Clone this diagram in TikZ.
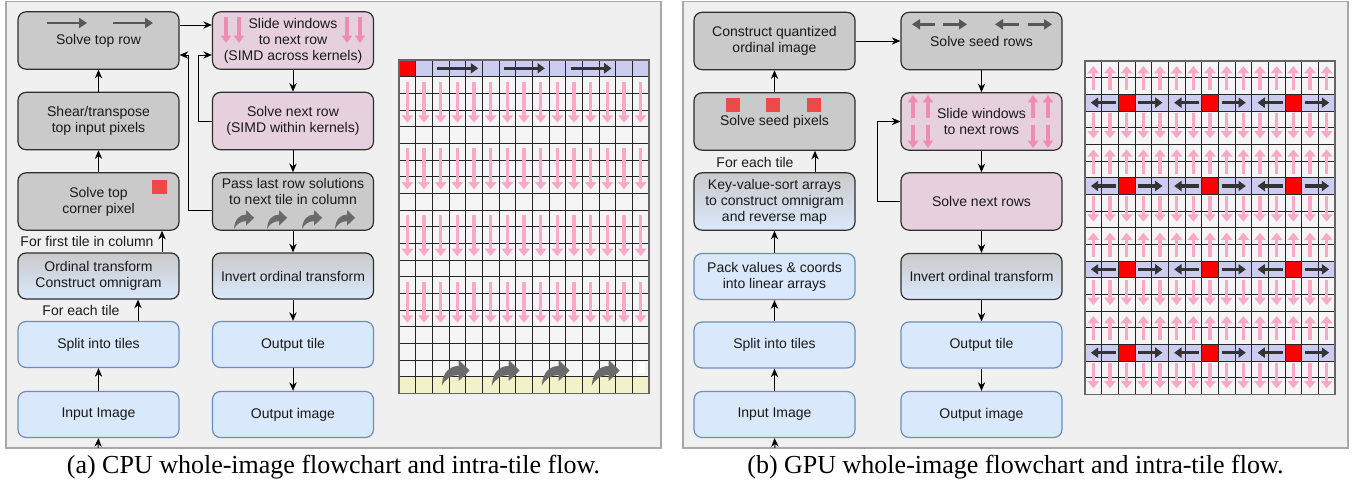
\documentclass[tikz,border=0pt]{standalone}
\usepackage{fontspec}
\setmainfont{Liberation Serif}
\setsansfont{Liberation Sans}
\usetikzlibrary{arrows.meta}

\definecolor{panelbg}{HTML}{F0F0F0}
\definecolor{panelline}{HTML}{A8A8A8}
\definecolor{greyfill}{HTML}{CACACA}
\definecolor{pinkfill}{HTML}{E6D0DE}
\definecolor{bluefill}{HTML}{DAE8FC}
\definecolor{blueline}{HTML}{6C8EBF}
\definecolor{boxline}{HTML}{2E2E2E}
\definecolor{kernel}{HTML}{F9A8C6}
\definecolor{kernelbox}{HTML}{EE8CB4}
\definecolor{iconarrow}{HTML}{575757}
\definecolor{gridarrow}{HTML}{333333}
\definecolor{seedred}{HTML}{FF0000}
\definecolor{pixred}{HTML}{EE4848}
\definecolor{cellfill}{HTML}{F5F5F5}
\definecolor{rowlav}{HTML}{CCCCF0}
\definecolor{rowyel}{HTML}{F2F2CA}
\definecolor{sharegrey}{HTML}{6A6A6A}

\newcommand\flowfont{\sffamily\fontsize{10.5}{12}\selectfont}

\begin{document}
\begin{tikzpicture}[x=0.75pt,y=-0.75pt,
  box/.style={rounded corners=6pt, draw=boxline, line width=0.9pt, align=center,
    font=\flowfont, text=black!90, minimum width=120.75pt, inner sep=2pt},
  greybox/.style={box, fill=greyfill},
  pinkbox/.style={box, fill=pinkfill},
  gradbox/.style={box, top color=greyfill, bottom color=bluefill},
  bluebox/.style={box, fill=bluefill, draw=blueline},
  tall/.style={minimum height=43pt},
  short/.style={minimum height=34.5pt},
  link/.style={draw=black, line width=0.75pt, -{Stealth[length=6.5pt,width=5.5pt]}},
  note/.style={font=\flowfont, text=black!90, inner sep=0pt},
  caption/.style={font=\rmfamily\fontsize{19.5}{23}\selectfont, anchor=base},
  kern/.style={draw=kernel, line width=2.7pt, -{Triangle[length=5.5pt,width=8.5pt]}},
  kernb/.style={draw=kernelbox, line width=2.4pt, -{Triangle[length=5.5pt,width=7.5pt]}},
  iconarr/.style={draw=iconarrow, line width=2.2pt, -{Triangle[length=6pt,width=7.5pt]}},
  darr/.style={draw=gridarrow, line width=2.3pt, -{Triangle[length=5.5pt,width=7.5pt]}},
  cellline/.style={draw=black!85, line width=0.6pt},
  share/.pic={\fill[sharegrey] (0,0) .. controls (1,-14) and (8,-20) .. (17,-20)
     -- (17,-26) -- (28,-15.5) -- (17,-5) -- (17,-11)
     .. controls (10,-11) and (3,-7) .. (0,0) -- cycle;}
]
\useasboundingbox (0,0) rectangle (1360,486);
\fill[white] (0,0) rectangle (1360,486);

% panels
\draw[fill=panelbg, draw=panelline, line width=0.9pt] (6,1.5) rectangle (661,448);
\draw[fill=panelbg, draw=panelline, line width=0.9pt] (683,1.5) rectangle (1348,448);

% ---------------- CPU flowchart ----------------
\node[greybox, tall]  (toprow) at (98.5,40.5)  {Solve top row};
\node[greybox, tall]  (shear)  at (98.5,121)   {Shear/transpose\\top input pixels};
\node[greybox, tall]  (corner) at (98.5,201.5) {Solve top\\corner pixel};
\node[gradbox, short] (ord)    at (98.5,276)   {Ordinal transform\\Construct omnigram};
\node[bluebox, short] (split)  at (98.5,344.5) {Split into tiles};
\node[bluebox, short] (inimg)  at (98.5,414.5) {Input Image};

\node[pinkbox, tall]  (slide)  at (293,40.5)   {Slide windows\\to next row\\(SIMD across kernels)};
\node[pinkbox, tall]  (next)   at (293,121)    {Solve next row\\(SIMD within kernels)};
\node[greybox, tall]  (pass)   at (293,201.5)  {Pass last row solutions\\to next tile in column\\\strut};
\node[gradbox, short] (inv)    at (293,276)    {Invert ordinal transform};
\node[bluebox, short] (otile)  at (293,344.5)  {Output tile};
\node[bluebox, short] (oimg)   at (293,414.5)  {Output image};

\node[note] (firsttile) at (87,241) {For first tile in column};
\node[note] (eachtile)  at (81,310) {For each tile};

% icons inside the CPU boxes
\draw[iconarr] (47,23) -- (87,23);
\draw[iconarr] (113,23) -- (153,23);
\foreach \x in {226,239,347,360} \draw[kernb] (\x,17) -- (\x,43);
\fill[pixred] (152,180) rectangle (167,194);
\foreach \x in {234,267,302,335} \pic[scale=0.72] at (\x,229) {share};

% CPU connectors
\coordinate (srcA) at (98,448);
\coordinate (xsplit) at (138,0);
\coordinate (xord) at (162,0);
\coordinate (yfwd) at (0,25);
\coordinate (yloop) at (0,55);
\coordinate (ypass) at (0,210);
\draw[link] (srcA) -- (inimg.south);
\draw[link] (inimg.north) -- (split.south);
\draw[link] (split.north -| xsplit) -- (ord.south -| xsplit);
\draw[link] (ord.north -| xord) -- (corner.south -| xord);
\draw[link] (corner.north) -- (shear.south);
\draw[link] (shear.north) -- (toprow.south);
\draw[link] (toprow.east |- yfwd) -- (slide.west |- yfwd);
\draw[link] (next.west) -- ++(-13,0) |- (slide.west |- yloop);
\draw[link] (pass.west |- ypass) -- ++(-23,0) |- (toprow.east |- yloop);
\draw[link] (slide.south) -- (next.north);
\draw[link] (next.south) -- (pass.north);
\draw[link] (pass.south) -- (inv.north);
\draw[link] (inv.south) -- (otile.north);
\draw[link] (otile.south) -- (oimg.north);

% ---------------- CPU tile grid ----------------
\fill[cellfill] (399,60) rectangle ++(250,333.33);
\fill[rowlav] (399,60) rectangle ++(250,16.667);
\fill[rowyel] (399,{60+19*16.667}) rectangle ++(250,16.667);
\fill[seedred] (399,60) rectangle ++(16.667,16.667);
\foreach \i in {0,...,15} \draw[cellline] ({399+\i*16.667},60) -- ++(0,333.33);
\foreach \j in {0,...,20} \draw[cellline] (399,{60+\j*16.667}) -- ++(250,0);
\draw[draw=black!60, line width=1.1pt] (399,60) rectangle ++(250,333.33);
\foreach \c in {2,6,10} \draw[darr] ({399+(\c+0.3)*16.667},68.3) -- ({399+(\c+2.75)*16.667},68.3);
\foreach \g in {0,...,3}
  \foreach \c in {0,...,14}
    \draw[kern] ({399+(\c+0.5)*16.667},{60+(1+4*\g)*16.667+5}) -- ({399+(\c+0.5)*16.667},{60+(4+4*\g)*16.667-4});
\foreach \x in {441.7,491.7,541.7,591.7} \pic at (\x,386) {share};
\fill[white] (637,363) rectangle (645,373);

% ---------------- GPU flowchart ----------------
\node[greybox, tall]  (quant)   at (774.5,41)    {Construct quantized\\ordinal image};
\node[greybox, tall]  (seedpix) at (774.5,121.5) {Solve seed pixels};
\node[gradbox, tall]  (kvsort)  at (774.5,201.5) {Key-value-sort arrays\\to construct omnigram\\and reverse map};
\node[bluebox, short] (pack)    at (774.5,276.5) {Pack values \& coords\\into linear arrays};
\node[bluebox, short] (splitR)  at (774.5,345)   {Split into tiles};
\node[bluebox, short] (inimgR)  at (774.5,414.5) {Input Image};

\node[greybox, tall]  (seedrow) at (981.5,41)    {Solve seed rows};
\node[pinkbox, tall]  (slideR)  at (981.5,121.5) {Slide windows\\to next rows};
\node[pinkbox, tall]  (nextR)   at (981.5,201.5) {Solve next rows};
\node[gradbox, short] (invR)    at (981.5,276.5) {Invert ordinal transform};
\node[bluebox, short] (otileR)  at (981.5,345)   {Output tile};
\node[bluebox, short] (oimgR)   at (981.5,414.5) {Output image};

\node[note] (eachtileR) at (755,162) {For each tile};

% icons inside the GPU boxes
\draw[iconarr] (935,24.3) -- (912,24.3);
\draw[iconarr] (943,24.3) -- (967,24.3);
\draw[iconarr] (1019,24.3) -- (995,24.3);
\draw[iconarr] (1028,24.3) -- (1052,24.3);
\foreach \x in {726,766,807} \fill[pixred] (\x,98) rectangle ++(14,14);
\foreach \x in {913,928,1033,1048} {
  \draw[kernb] (\x,118) -- (\x,95);
  \draw[kernb] (\x,125) -- (\x,148);
}

% GPU connectors
\coordinate (srcB) at (775,448);
\coordinate (xkv) at (815,0);
\draw[link] (srcB) -- (inimgR.south);
\draw[link] (inimgR.north) -- (splitR.south);
\draw[link] (splitR.north) -- (pack.south);
\draw[link] (pack.north) -- (kvsort.south);
\draw[link] (kvsort.north -| xkv) -- (seedpix.south -| xkv);
\draw[link] (seedpix.north) -- (quant.south);
\draw[link] (quant.east) -- (seedrow.west);
\draw[link] (seedrow.south) -- (slideR.north);
\draw[link] (slideR.south) -- (nextR.north);
\draw[link] (nextR.west) -- ++(-23,0) |- (slideR.west);
\draw[link] (nextR.south) -- (invR.north);
\draw[link] (invR.south) -- (otileR.north);
\draw[link] (otileR.south) -- (oimgR.north);

% ---------------- GPU tile grid ----------------
\fill[cellfill] (1085,61) rectangle ++(250,333.33);
\foreach \k in {0,...,3}{
  \fill[rowlav] (1085,{61+(5*\k+2)*16.667}) rectangle ++(250,16.667);
  \foreach \s in {0,5,10}
    \fill[seedred] ({1085+(\s+2)*16.667},{61+(5*\k+2)*16.667}) rectangle ++(16.667,16.667);
}
\foreach \i in {0,...,15} \draw[cellline] ({1085+\i*16.667},61) -- ++(0,333.33);
\foreach \j in {0,...,20} \draw[cellline] (1085,{61+\j*16.667}) -- ++(250,0);
\draw[draw=black!60, line width=1.1pt] (1085,61) rectangle ++(250,333.33);
\foreach \k in {0,...,3}{
  \foreach \c in {0,...,14}{
    \draw[kern] ({1085+(\c+0.5)*16.667},{61+(5*\k+2)*16.667-4}) -- ({1085+(\c+0.5)*16.667},{61+5*\k*16.667+5});
    \draw[kern] ({1085+(\c+0.5)*16.667},{61+(5*\k+3)*16.667+2}) -- ({1085+(\c+0.5)*16.667},{61+(5*\k+5)*16.667-6});
  }
  \foreach \s in {0,5,10}{
    \draw[darr] ({1085+(\s+1.85)*16.667},{61+(5*\k+2.5)*16.667}) -- ({1085+(\s+0.35)*16.667},{61+(5*\k+2.5)*16.667});
    \draw[darr] ({1085+(\s+3.2)*16.667},{61+(5*\k+2.5)*16.667}) -- ({1085+(\s+4.65)*16.667},{61+(5*\k+2.5)*16.667});
  }
}

% captions
\node[caption] (capA) at (333.5,473) {(a) CPU whole-image flowchart and intra-tile flow.};
\node[caption] (capB) at (1015.5,473) {(b) GPU whole-image flowchart and intra-tile flow.};
\end{tikzpicture}
\end{document}
